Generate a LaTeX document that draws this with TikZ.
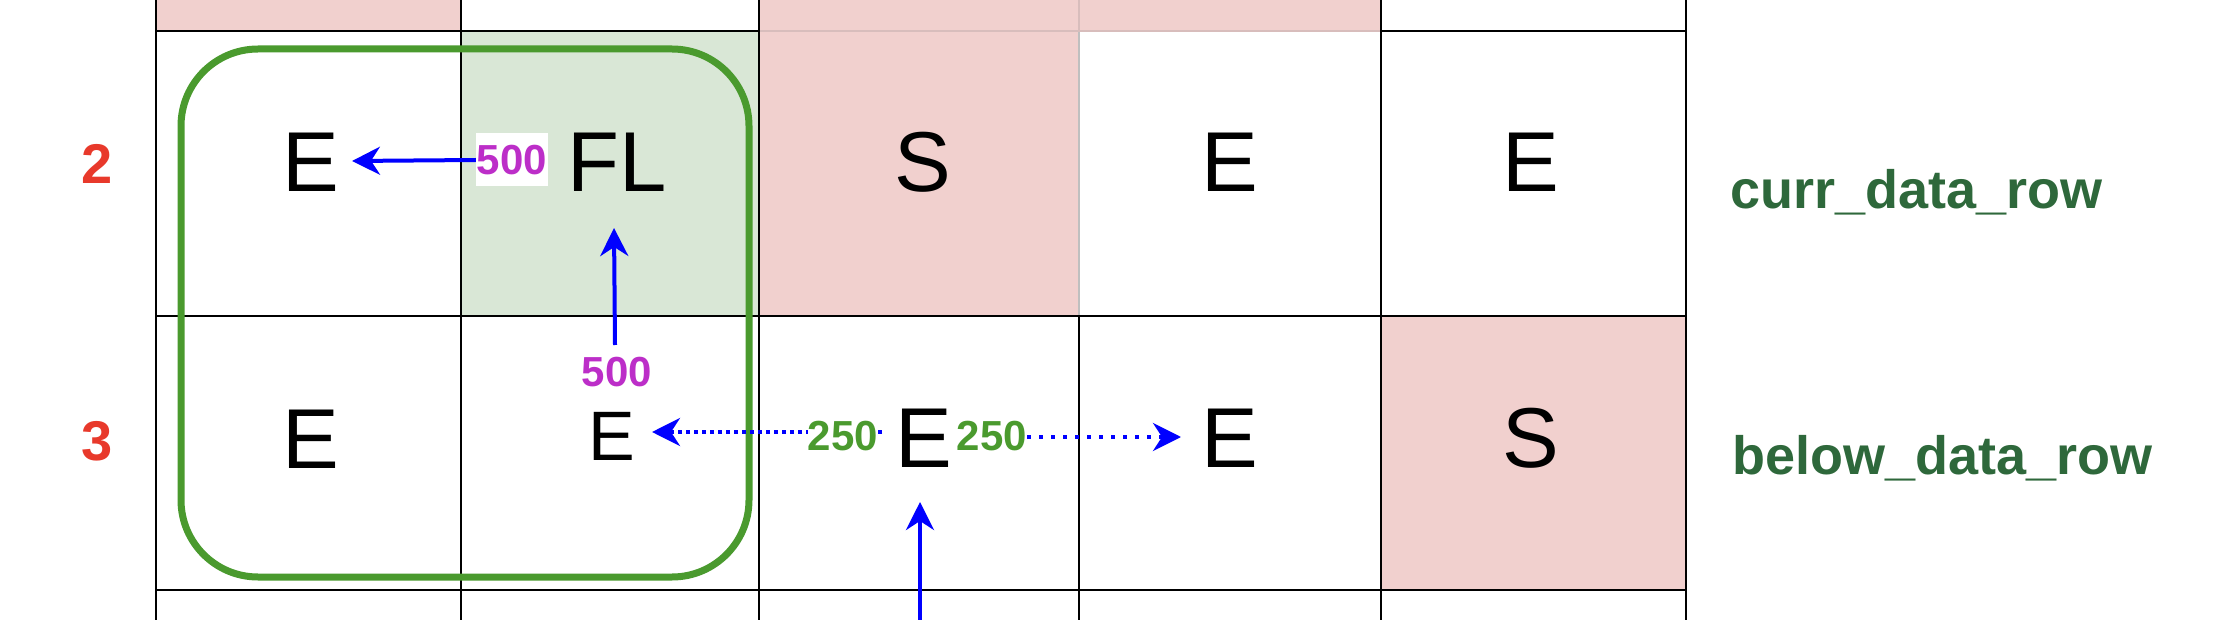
\documentclass[tikz,border=0pt]{standalone}
\usepackage{fontspec}
\setmainfont{Liberation Sans}
\usetikzlibrary{arrows.meta}
\definecolor{pinkc}{HTML}{F1D0CE}
\definecolor{greenc}{HTML}{D9E7D6}
\definecolor{rectgreen}{HTML}{4A9A2E}
\definecolor{labgreen}{HTML}{2E683B}
\definecolor{rowred}{HTML}{E8392B}
\definecolor{magc}{HTML}{BC2EC8}
\definecolor{faint}{HTML}{D8BDBC}
\tikzset{
  gridline/.style={line width=1.8pt, black},
  faintline/.style={line width=1.2pt, faint},
  bigletter/.style={inner sep=0pt, font=\fontsize{85}{90}\selectfont},
  smallletter/.style={inner sep=0pt, font=\fontsize{70}{75}\selectfont},
  rowlabel/.style={inner sep=0pt, text=rowred, font=\bfseries\fontsize{56}{60}\selectfont},
  maglabel/.style={inner sep=0pt, text=magc, font=\bfseries\fontsize{42}{46}\selectfont},
  greenlabel/.style={inner sep=0pt, fill=white, text=rectgreen, font=\bfseries\fontsize{42}{46}\selectfont},
  varlabel/.style={inner sep=0pt, anchor=base west, text=labgreen, font=\bfseries\fontsize{54}{58}\selectfont},
  arr/.style={draw=blue, line width=4pt, -{Stealth[length=28pt, width=28pt, inset=9pt]}},
  dotarrA/.style={arr, dash pattern=on 4pt off 4pt},
  dotarrB/.style={arr, dash pattern=on 4pt off 8pt},
  grouprect/.style={draw=rectgreen, line width=7pt, rounded corners=77pt}
}
\begin{document}
\begin{tikzpicture}[x=1pt,y=-1pt]
\useasboundingbox (0,0) rectangle (2218,620);
% fills
\fill[pinkc] (156,-5) rectangle (461,31);
\fill[pinkc] (759,-5) rectangle (1381,31);
\fill[greenc] (461,31) rectangle (759,316);
\fill[pinkc] (759,31) rectangle (1079,316);
\fill[pinkc] (1381,316) rectangle (1686,590);
% grid lines
\foreach \x in {156,461,759,1079,1381,1686} \draw[gridline] (\x,-5) -- (\x,625);
\foreach \y in {31,316,590} \draw[gridline] (156,\y) -- (1686,\y);
% faint borders between pink cells
\draw[faintline] (1079,-5) -- (1079,30);
\draw[faintline] (760,31) -- (1380,31);
\draw[faintline,draw=lightgray] (1079,32) -- (1079,315);
% row numbers
\node[rowlabel] (r2) at (97,164) {2};
\node[rowlabel] (r3) at (97,441) {3};
% cells row 2
\node[bigletter] (c21) at (311,162) {E};
\node[bigletter] (c22) at (617,162) {FL};
\node[bigletter] (c23) at (923,162) {S};
\node[bigletter] (c24) at (1230,162) {E};
\node[bigletter] (c25) at (1531,162) {E};
% cells row 3
\node[bigletter] (c31) at (311,439) {E};
\node[smallletter] (c32) at (612,436) {E};
\node[bigletter] (c33) at (924,438) {E};
\node[bigletter] (c34) at (1230,438) {E};
\node[bigletter] (c35) at (1531,438) {S};
% group outline
\draw[grouprect] (181,49) rectangle (749,577);
% arrows
\coordinate (t1) at (352,161);
\coordinate (s2) at (615,345);
\coordinate (t2) at (614,228);
\coordinate (s3) at (882,432);
\coordinate (t3) at (652,432);
\coordinate (t4) at (1181,437);
\coordinate (s5) at (920,640);
\coordinate (t5) at (920,502);
\draw[dotarrA] (s3) -- (t3);
\node[greenlabel] (g1) at (843,436) {250};
\node[greenlabel] (g2) at (992,436) {250};
\draw[dotarrB] (g2.east |- t4) -- (t4);
\draw[arr] (s5) -- (t5);
\node[maglabel, fill=white, minimum width=72pt, minimum height=53pt] (m1) at (512,160) {500};
\draw[arr] (m1.west) -- (t1);
\node[maglabel] (m2) at (617,372) {500};
\draw[arr] (s2) -- (t2);
% row names
\node[varlabel] (curr) at (1730,209) {curr\_data\_row};
\node[varlabel] (below) at (1732,474) {below\_data\_row};
\end{tikzpicture}
\end{document}
